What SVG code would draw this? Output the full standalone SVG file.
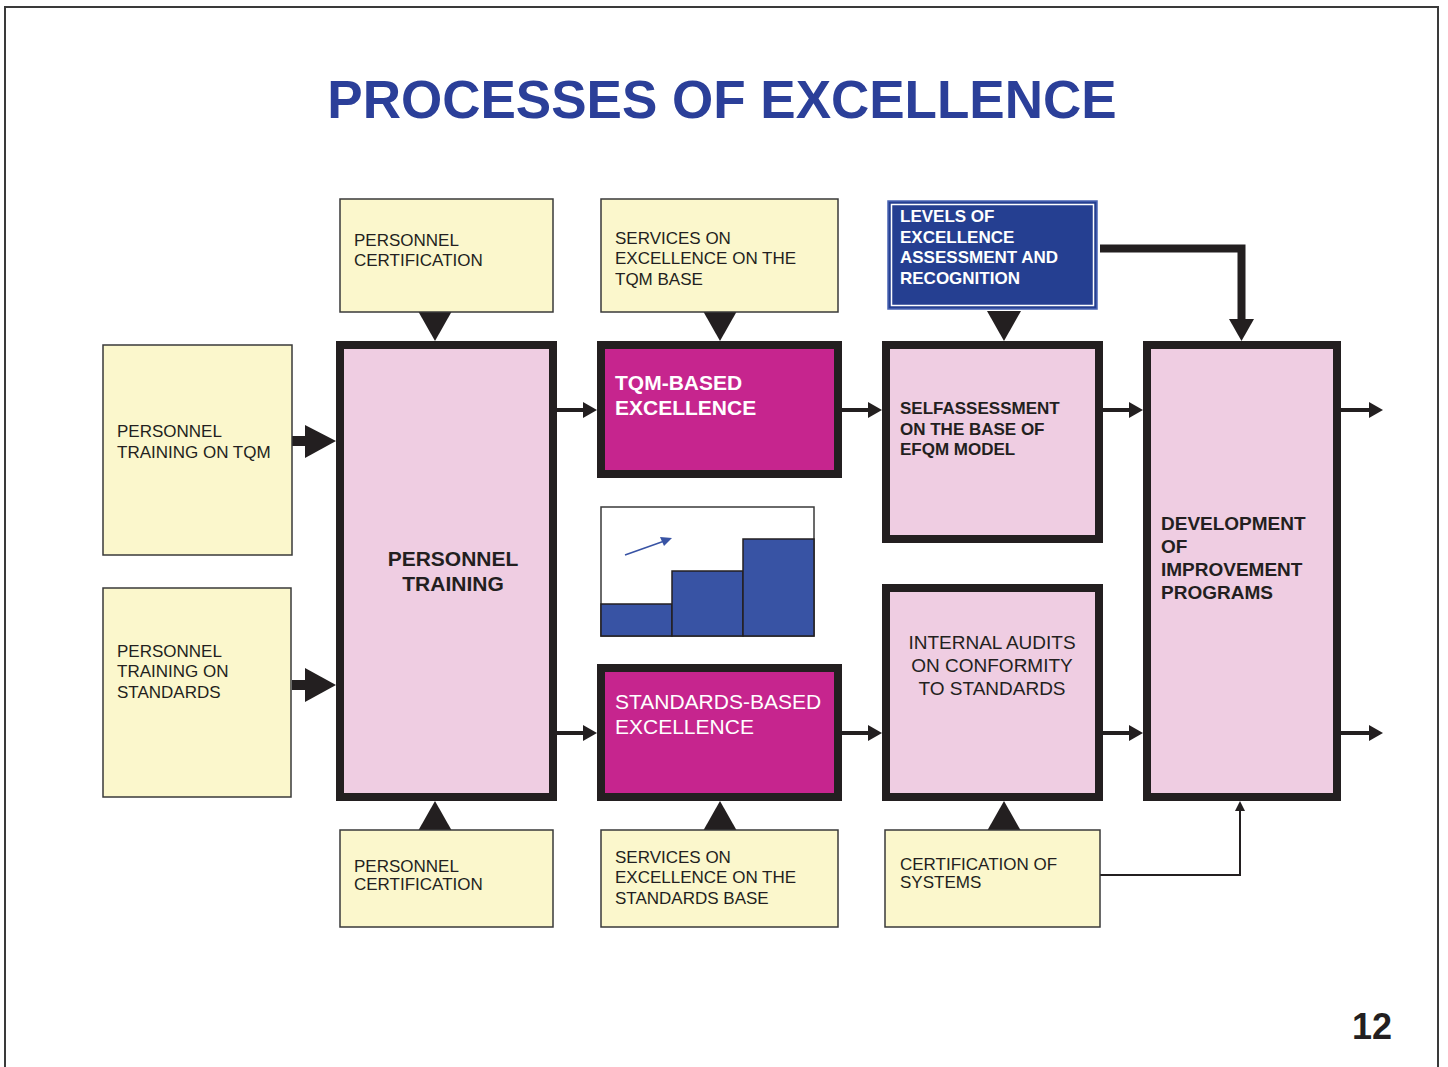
<svg xmlns="http://www.w3.org/2000/svg" width="1448" height="1067" viewBox="0 0 1448 1067">
<defs>
<style>
.t{font-family:"Liberation Sans",Arial,sans-serif;fill:#231f20;font-size:17px}
.b{font-weight:bold}
.w{fill:#ffffff}
.yel{fill:#fbf7cc;stroke:#3a3a3a;stroke-width:1.5}
.pink{fill:#efcde2;stroke:#231f20;stroke-width:8}
.mag{fill:#c6258e;stroke:#231f20;stroke-width:8}
.blk{fill:#231f20}
.ln{stroke:#231f20;fill:none}
</style>
</defs>
<rect x="0" y="0" width="1448" height="1067" fill="#ffffff"/>
<rect x="5" y="7" width="1433" height="1070" fill="none" stroke="#3a3a3a" stroke-width="2"/>
<text x="722" y="118" text-anchor="middle" font-family="'Liberation Sans',Arial,sans-serif" font-weight="bold" font-size="53" fill="#2b3f99">PROCESSES OF EXCELLENCE</text>

<g id="connectors">
  <!-- big arrows from left boxes -->
  <rect class="blk" x="292" y="436" width="16" height="10"/>
  <polygon class="blk" points="305,425 336,441 305,458"/>
  <rect class="blk" x="292" y="680" width="16" height="10"/>
  <polygon class="blk" points="305,668 336,685 305,702"/>
  <!-- down triangles from top boxes -->
  <polygon class="blk" points="418,311 452,311 435,341"/>
  <polygon class="blk" points="703,311 737,311 720,341"/>
  <polygon class="blk" points="987,311 1021,311 1004,341"/>
  <!-- up triangles from bottom boxes -->
  <polygon class="blk" points="418,831 452,831 435,801"/>
  <polygon class="blk" points="703,831 737,831 720,801"/>
  <polygon class="blk" points="987,831 1021,831 1004,801"/>
  <!-- small arrows row 1 -->
  <g>
    <line class="ln" x1="557" y1="410" x2="586" y2="410" stroke-width="4"/>
    <polygon class="blk" points="583,402 597,410 583,418"/>
    <line class="ln" x1="842" y1="410" x2="871" y2="410" stroke-width="4"/>
    <polygon class="blk" points="868,402 882,410 868,418"/>
    <line class="ln" x1="1103" y1="410" x2="1132" y2="410" stroke-width="4"/>
    <polygon class="blk" points="1129,402 1143,410 1129,418"/>
    <line class="ln" x1="1341" y1="410" x2="1372" y2="410" stroke-width="4"/>
    <polygon class="blk" points="1369,402 1383,410 1369,418"/>
  </g>
  <g>
    <line class="ln" x1="557" y1="733" x2="586" y2="733" stroke-width="4"/>
    <polygon class="blk" points="583,725 597,733 583,741"/>
    <line class="ln" x1="842" y1="733" x2="871" y2="733" stroke-width="4"/>
    <polygon class="blk" points="868,725 882,733 868,741"/>
    <line class="ln" x1="1103" y1="733" x2="1132" y2="733" stroke-width="4"/>
    <polygon class="blk" points="1129,725 1143,733 1129,741"/>
    <line class="ln" x1="1341" y1="733" x2="1372" y2="733" stroke-width="4"/>
    <polygon class="blk" points="1369,725 1383,733 1369,741"/>
  </g>
  <!-- levels to development -->
  <polyline class="ln" points="1100,248.5 1241.5,248.5 1241.5,322" stroke-width="8"/>
  <polygon class="blk" points="1229,319 1254,319 1241.5,341"/>
  <!-- certification of systems to development -->
  <polyline class="ln" points="1100,875 1240,875 1240,810" stroke-width="2"/>
  <polygon class="blk" points="1235,811 1245,811 1240,801"/>
</g>

<g id="n-train-tqm">
  <rect class="yel" x="103" y="345" width="189" height="210"/>
  <text class="t"><tspan x="117" y="437">PERSONNEL</tspan><tspan x="117" y="458">TRAINING ON TQM</tspan></text>
</g>
<g id="n-train-std">
  <rect class="yel" x="103" y="588" width="188" height="209"/>
  <text class="t"><tspan x="117" y="657">PERSONNEL</tspan><tspan x="117" y="677">TRAINING ON</tspan><tspan x="117" y="698">STANDARDS</tspan></text>
</g>
<g id="n-cert-top">
  <rect class="yel" x="340" y="199" width="213" height="113"/>
  <text class="t"><tspan x="354" y="246">PERSONNEL</tspan><tspan x="354" y="266">CERTIFICATION</tspan></text>
</g>
<g id="n-serv-tqm">
  <rect class="yel" x="601" y="199" width="237" height="113"/>
  <text class="t"><tspan x="615" y="244">SERVICES ON</tspan><tspan x="615" y="264">EXCELLENCE ON THE</tspan><tspan x="615" y="285">TQM BASE</tspan></text>
</g>
<g id="n-levels">
  <rect x="888" y="201" width="209" height="108" fill="#253f91" stroke="#4a64b4" stroke-width="1.5"/>
  <rect x="891.5" y="204.5" width="202" height="101" fill="none" stroke="#ffffff" stroke-width="1.5"/>
  <text class="t b w"><tspan x="900" y="222">LEVELS OF</tspan><tspan x="900" y="243">EXCELLENCE</tspan><tspan x="900" y="263">ASSESSMENT AND</tspan><tspan x="900" y="284">RECOGNITION</tspan></text>
</g>
<g id="n-personnel-training">
  <rect class="pink" x="340" y="345" width="213" height="452"/>
  <text class="t b" font-size="21" text-anchor="middle" style="font-size:21px"><tspan x="453" y="566">PERSONNEL</tspan><tspan x="453" y="591">TRAINING</tspan></text>
</g>
<g id="n-tqm-excellence">
  <rect class="mag" x="601" y="345" width="237" height="129"/>
  <text class="t b w" style="font-size:21px"><tspan x="615" y="390">TQM-BASED</tspan><tspan x="615" y="415">EXCELLENCE</tspan></text>
</g>
<g id="n-selfassessment">
  <rect class="pink" x="886" y="345" width="213" height="194"/>
  <text class="t b"><tspan x="900" y="414">SELFASSESSMENT</tspan><tspan x="900" y="435">ON THE BASE OF</tspan><tspan x="900" y="455">EFQM MODEL</tspan></text>
</g>
<g id="n-development">
  <rect class="pink" x="1147" y="345" width="190" height="452"/>
  <text class="t b" style="font-size:19px"><tspan x="1161" y="530">DEVELOPMENT</tspan><tspan x="1161" y="553">OF</tspan><tspan x="1161" y="576">IMPROVEMENT</tspan><tspan x="1161" y="599">PROGRAMS</tspan></text>
</g>
<g id="n-chart">
  <rect x="601" y="507" width="213" height="129" fill="#ffffff" stroke="#3a3a3a" stroke-width="1.5"/>
  <rect x="601" y="604" width="71" height="32" fill="#3853a4" stroke="#231f20" stroke-width="1.5"/>
  <rect x="672" y="571" width="71" height="65" fill="#3853a4" stroke="#231f20" stroke-width="1.5"/>
  <rect x="743" y="539" width="71" height="97" fill="#3853a4" stroke="#231f20" stroke-width="1.5"/>
  <line x1="625" y1="555" x2="663" y2="541.5" stroke="#3853a4" stroke-width="1.5"/>
  <polygon points="672,538 660,537 664,546" fill="#3853a4"/>
</g>
<g id="n-std-excellence">
  <rect class="mag" x="601" y="668" width="237" height="129"/>
  <text class="t w" style="font-size:21px"><tspan x="615" y="709">STANDARDS-BASED</tspan><tspan x="615" y="734">EXCELLENCE</tspan></text>
</g>
<g id="n-internal-audits">
  <rect class="pink" x="886" y="588" width="213" height="209"/>
  <text class="t" style="font-size:19px" text-anchor="middle"><tspan x="992" y="649">INTERNAL AUDITS</tspan><tspan x="992" y="672">ON CONFORMITY</tspan><tspan x="992" y="695">TO STANDARDS</tspan></text>
</g>
<g id="n-cert-bottom">
  <rect class="yel" x="340" y="830" width="213" height="97"/>
  <text class="t"><tspan x="354" y="872">PERSONNEL</tspan><tspan x="354" y="890">CERTIFICATION</tspan></text>
</g>
<g id="n-serv-std">
  <rect class="yel" x="601" y="830" width="237" height="97"/>
  <text class="t"><tspan x="615" y="863">SERVICES ON</tspan><tspan x="615" y="883">EXCELLENCE ON THE</tspan><tspan x="615" y="904">STANDARDS BASE</tspan></text>
</g>
<g id="n-cert-systems">
  <rect class="yel" x="885" y="830" width="215" height="97"/>
  <text class="t"><tspan x="900" y="870">CERTIFICATION OF</tspan><tspan x="900" y="888">SYSTEMS</tspan></text>
</g>
<text x="1392" y="1039" text-anchor="end" font-family="'Liberation Sans',Arial,sans-serif" font-weight="bold" font-size="36" fill="#231f20">12</text>
</svg>
